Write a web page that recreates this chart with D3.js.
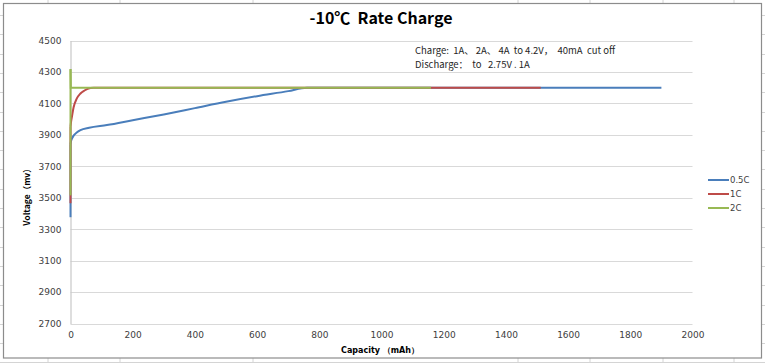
<!DOCTYPE html>
<html>
<head>
<meta charset="utf-8">
<script src="https://cdn.jsdelivr.net/npm/d3@7"></script>
<style>
  body { margin: 0; background: #fff; }
  svg { display: block; }
  text { white-space: pre; }
  .tick text { font-family: "DejaVu Sans", sans-serif; font-size: 9px; fill: #404040; }
</style>
</head>
<body>
<svg width="765" height="363"></svg>
<script>
// series data (capacity mAh, voltage mV)
var seriesNames = ["0.5C", "1C", "2C"];
var seriesColors = ["#4a7ebb", "#be4b48", "#98b954"];
var cap05 = [0, 0, 2, 5, 10, 20, 32, 60, 117, 200, 300, 400, 500, 600, 700, 760, 1000, 1500, 1900];
var volt05 = [3376, 3840, 3862, 3877, 3895, 3915, 3930, 3945, 3962, 3993, 4030, 4070, 4110, 4146, 4178, 4200, 4200, 4200, 4200];
var cap1 = [0, 0, 2, 5, 10, 20, 32, 45, 64, 75, 500, 1000, 1512];
var volt1 = [3465, 3950, 3985, 4020, 4075, 4130, 4163, 4182, 4198, 4200, 4200, 4200, 4200];
var cap2 = [0, 0, 1, 500, 1159];
var volt2 = [3515, 4318, 4200, 4200, 4200];
var yTicks = [2700, 2900, 3100, 3300, 3500, 3700, 3900, 4100, 4300, 4500];
var xTicks = [0, 200, 400, 600, 800, 1000, 1200, 1400, 1600, 1800, 2000];

var svg = d3.select("svg");

// spreadsheet cells behind the chart
var colLines = [48, 120, 253, 518, 590, 663, 734];
svg.selectAll(".col").data(colLines).enter().append("line")
    .attr("x1", d => d).attr("x2", d => d)
    .attr("y1", 0).attr("y2", 363)
    .attr("stroke", "#d4d4d4").attr("stroke-width", 1);
var rowLines = d3.range(15, 363, 19.3);
svg.selectAll(".row").data(rowLines).enter().append("line")
    .attr("x1", 0).attr("x2", 765)
    .attr("y1", d => Math.round(d) + 0.5).attr("y2", d => Math.round(d) + 0.5)
    .attr("stroke", "#d4d4d4").attr("stroke-width", 1);

// chart area
svg.append("rect")
    .attr("x", 3.5).attr("y", 3.5)
    .attr("width", 758).attr("height", 354.5)
    .attr("fill", "#fff")
    .attr("stroke", "#8c8c8c").attr("stroke-width", 1.2);

var x = d3.scaleLinear().domain([0, 2000]).range([70.5, 692.5]);
var y = d3.scaleLinear().domain([2700, 4500]).range([323.5, 40.5]);

// horizontal grid
svg.append("g")
    .selectAll("line")
    .data(yTicks)
    .enter().append("line")
    .attr("x1", x(0)).attr("x2", x(2000))
    .attr("y1", d => Math.round(y(d)) + 0.5).attr("y2", d => Math.round(y(d)) + 0.5)
    .attr("stroke", "#d9d9d9").attr("stroke-width", 1.2);

// axes
var yAxis = svg.append("g")
    .attr("transform", "translate(" + x(0) + ",0)")
    .call(d3.axisLeft(y).tickValues(yTicks).tickSize(0).tickPadding(9).tickFormat(d3.format("d")));
yAxis.select(".domain").attr("stroke", "#c8c8c8").attr("stroke-width", 1.2);

var xAxis = svg.append("g")
    .attr("transform", "translate(0," + y(2700) + ")")
    .call(d3.axisBottom(x).tickValues(xTicks).tickSize(0).tickPadding(8).tickFormat(d3.format("d")));
xAxis.select(".domain").remove();

// lines
var lineStraight = d3.line().x(d => x(d[0])).y(d => y(d[1]));
var lineSmooth = d3.line().x(d => x(d[0])).y(d => y(d[1])).curve(d3.curveMonotoneX);

var allSeries = [
    d3.zip(cap05, volt05),
    d3.zip(cap1, volt1),
    d3.zip(cap2, volt2)
];
allSeries.forEach(function(pts, i) {
    // vertical jump at x=0 drawn straight, the rest smoothed
    var rest = pts.slice(1);
    svg.append("path")
        .attr("d", lineStraight(pts.slice(0, 2)))
        .attr("fill", "none")
        .attr("stroke", seriesColors[i])
        .attr("stroke-width", 2);
    svg.append("path")
        .attr("d", i == 2 ? lineStraight(rest) : lineSmooth(rest))
        .attr("fill", "none")
        .attr("stroke", seriesColors[i])
        .attr("stroke-width", 2);
});

// title
svg.append("text")
    .attr("x", 381).attr("y", 24)
    .attr("text-anchor", "middle")
    .style("font-family", "'Noto Sans CJK SC', sans-serif")
    .style("font-weight", "bold")
    .style("font-size", "16px")
    .text("-10℃  Rate Charge");

// note
var note = svg.append("text")
    .style("font-family", "'Noto Sans CJK SC', sans-serif")
    .style("font-size", "9.5px")
    .attr("fill", "#262626");
note.append("tspan").attr("x", 415).attr("y", 54).text("Charge:  1A、 2A、 4A  to 4.2V，  40mA  cut off");
note.append("tspan").attr("x", 415).attr("y", 68).text("Discharge：  to   2.75V . 1A");

// axis titles
svg.append("text")
    .attr("transform", "translate(30,195) rotate(-90)")
    .attr("text-anchor", "middle")
    .style("font-family", "'Noto Sans CJK SC', sans-serif")
    .style("font-weight", "bold")
    .style("font-size", "8.5px")
    .text("Voltage（mv）");
svg.append("text")
    .attr("x", 380).attr("y", 353)
    .attr("text-anchor", "middle")
    .style("font-family", "'DejaVu Sans', sans-serif")
    .style("font-weight", "bold")
    .style("font-size", "8px")
    .text("Capacity （mAh）");

// legend
var legend = svg.append("g").attr("transform", "translate(708,180)");
seriesNames.forEach(function(name, i) {
    var g = legend.append("g").attr("transform", "translate(0," + (i * 14) + ")");
    g.append("line").attr("x1", 0).attr("x2", 21).attr("y1", 0).attr("y2", 0)
        .attr("stroke", seriesColors[i]).attr("stroke-width", 2);
    g.append("text").attr("x", 22).attr("y", 3)
        .style("font-family", "'DejaVu Sans', sans-serif")
        .style("font-size", "8.5px")
        .attr("fill", "#404040")
        .text(name);
});
</script>
</body>
</html>
